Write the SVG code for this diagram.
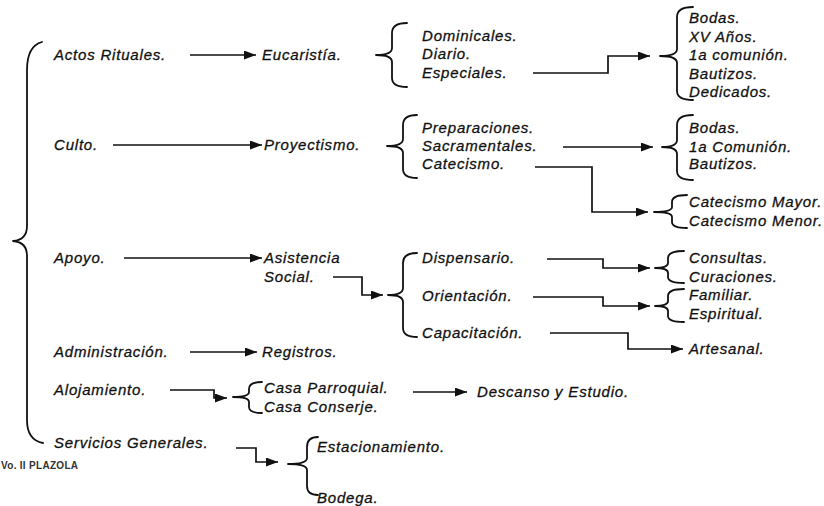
<svg xmlns="http://www.w3.org/2000/svg" width="824" height="506" viewBox="0 0 824 506">
<defs>
<marker id="ah" markerUnits="userSpaceOnUse" markerWidth="13" markerHeight="10" refX="12" refY="4.5" orient="auto">
<path d="M0,0 L12,4.5 L0,9 z" fill="#111"/>
</marker>
<style>
text{font-family:"Liberation Sans",Arial,sans-serif;font-style:italic;font-size:15px;letter-spacing:0.8px;fill:#111;stroke:#111;stroke-width:0.3px}
.br{fill:none;stroke:#111;stroke-width:1.8;stroke-linecap:round;stroke-linejoin:round}
.cn{fill:none;stroke:#111;stroke-width:1.7}
.ar{marker-end:url(#ah)}
.ft{font-style:normal;font-weight:bold;font-size:10px;letter-spacing:0.3px;fill:#333;stroke:none}
</style>
</defs>
<rect width="824" height="506" fill="#fff"/>

<g id="connectors">
<line class="cn ar" x1="190" y1="55" x2="256" y2="55"/>
<line class="cn ar" x1="113" y1="145" x2="262" y2="145"/>
<line class="cn ar" x1="124" y1="258" x2="262" y2="258"/>
<line class="cn ar" x1="190" y1="352" x2="257" y2="352"/>
<polyline class="cn ar" points="170,390 214,390 214,398 227,398"/>
<polyline class="cn ar" points="236,448 256,448 256,462 278,462"/>
<line class="cn ar" x1="413" y1="392" x2="467" y2="392"/>
<polyline class="cn ar" points="333,277 362,277 362,295 383,295"/>
<polyline class="cn ar" points="533,73 608,73 608,56 650,56"/>
<line class="cn ar" x1="563" y1="147" x2="653" y2="147"/>
<polyline class="cn ar" points="535,167 592,167 592,212 648,212"/>
<polyline class="cn ar" points="547,259 603,259 603,268 650,268"/>
<polyline class="cn ar" points="533,297 603,297 603,306 650,306"/>
<polyline class="cn ar" points="550,333 628,333 628,349 683,349"/>
</g>

<g id="braces">
<path class="br" d="M42,42 Q27,46 27,70 L27,226 Q27,240 13,241 Q27,242 27,256 L27,420 Q27,440 43,443"/>
<path class="br" d="M407,23 Q392,23 392,33 L392,48 Q392,55 376,55 Q392,55 392,62 L392,78 Q392,87 407,87"/>
<path class="br" d="M417,115 Q403,115 403,125 L403,139 Q403,146 387,146 Q403,146 403,153 L403,169 Q403,178 417,178"/>
<path class="br" d="M693,7 Q677,7 677,17 L677,49 Q677,56 660,56 Q677,56 677,63 L677,91 Q677,100 693,100"/>
<path class="br" d="M693,115 Q677,115 677,125 L677,140 Q677,147 662,147 Q677,147 677,154 L677,171 Q677,180 693,180"/>
<path class="br" d="M687,195 Q672,195 672,202 L672,207 Q672,212 654,212 Q672,212 672,217 L672,222 Q672,228 687,228"/>
<path class="br" d="M417,253 Q403,253 403,263 L403,288 Q403,295 388,295 Q403,295 403,302 L403,328 Q403,337 417,337"/>
<path class="br" d="M684,251 Q668,251 668,258 L668,263 Q668,268 655,268 Q668,268 668,273 L668,277 Q668,283 684,283"/>
<path class="br" d="M684,289 Q668,289 668,296 L668,301 Q668,306 655,306 Q668,306 668,311 L668,316 Q668,322 684,322"/>
<path class="br" d="M262,382 Q249,382 249,389 L249,392 Q249,397 233,397 Q249,397 249,402 L249,407 Q249,413 262,413"/>
<path class="br" d="M318,437 Q307,437 307,447 L307,458 Q307,464 288,464 Q307,464 307,470 L307,486 Q307,495 318,495"/>
</g>

<g id="n-actos"><text x="54" y="60">Actos Rituales.</text></g>
<g id="n-culto"><text x="54" y="150">Culto.</text></g>
<g id="n-apoyo"><text x="54" y="263">Apoyo.</text></g>
<g id="n-admin"><text x="54" y="357">Administración.</text></g>
<g id="n-aloj"><text x="54" y="395">Alojamiento.</text></g>
<g id="n-serv"><text x="54" y="448">Servicios Generales.</text></g>

<g id="n-eucaristia"><text x="262" y="60">Eucaristía.</text></g>
<g id="n-proyectismo"><text x="264" y="150">Proyectismo.</text></g>
<g id="n-asistencia"><text x="264" y="263">Asistencia</text><text x="264" y="282">Social.</text></g>
<g id="n-registros"><text x="262" y="357">Registros.</text></g>
<g id="n-casa"><text x="264" y="393">Casa Parroquial.</text><text x="264" y="412">Casa Conserje.</text></g>
<g id="n-descanso"><text x="477" y="397">Descanso y Estudio.</text></g>
<g id="n-estac"><text x="317" y="452">Estacionamiento.</text><text x="317" y="503">Bodega.</text></g>

<g id="n-euc-sub"><text x="422" y="41">Dominicales.</text><text x="422" y="59">Diario.</text><text x="422" y="78">Especiales.</text></g>
<g id="n-proy-sub"><text x="422" y="133">Preparaciones.</text><text x="422" y="151">Sacramentales.</text><text x="422" y="169">Catecismo.</text></g>
<g id="n-asis-sub"><text x="422" y="263">Dispensario.</text><text x="422" y="301">Orientación.</text><text x="422" y="338">Capacitación.</text></g>

<g id="n-esp-sub"><text x="689" y="23">Bodas.</text><text x="689" y="42">XV Años.</text><text x="689" y="60">1a comunión.</text><text x="689" y="79">Bautizos.</text><text x="689" y="97">Dedicados.</text></g>
<g id="n-sac-sub"><text x="689" y="133">Bodas.</text><text x="689" y="152">1a Comunión.</text><text x="689" y="169">Bautizos.</text></g>
<g id="n-cat-sub"><text x="689" y="207">Catecismo Mayor.</text><text x="689" y="226">Catecismo Menor.</text></g>
<g id="n-disp-sub"><text x="689" y="263">Consultas.</text><text x="689" y="282">Curaciones.</text></g>
<g id="n-ori-sub"><text x="689" y="300">Familiar.</text><text x="689" y="319">Espiritual.</text></g>
<g id="n-artesanal"><text x="689" y="354">Artesanal.</text></g>

<text class="ft" x="1" y="469">Vo. II PLAZOLA</text>
</svg>
